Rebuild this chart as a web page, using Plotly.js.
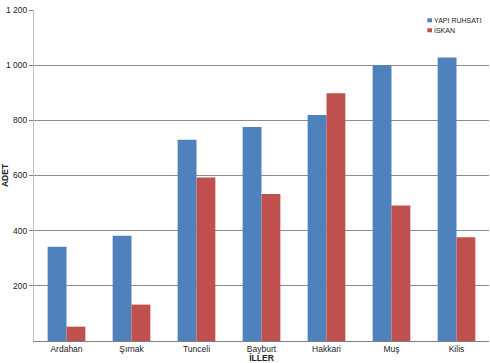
<!DOCTYPE html>
<html><head><meta charset="utf-8">
<script src="https://cdn.plot.ly/plotly-3.0.1.min.js"></script>
<style>html,body{margin:0;padding:0;background:#fff;}#c{width:490px;height:363px;}</style>
</head><body><div id="c"></div>
<script>
const categories = ["Ardahan","Şırnak","Tunceli","Bayburt","Hakkari","Muş","Kilis"];
const yapiRuhsati = [342, 382, 730, 776, 819, 1000, 1028];
const iskan = [52, 132, 593, 533, 898, 491, 376];
const seriesNames = ["YAPI RUHSATI","İSKAN"];
const seriesColors = ["#4f81bd","#c0504d"];
const yTicks = [200, 400, 600, 800, 1000, 1200];

const fam = "Liberation Sans, Arial, sans-serif";
const font = {family: fam, size: 8.5, color: "#222"};
const data = [
  {type:"bar", x:categories, y:yapiRuhsati, name:seriesNames[0], marker:{color:seriesColors[0]}, showlegend:false},
  {type:"bar", x:categories, y:iskan, name:seriesNames[1], marker:{color:seriesColors[1]}, showlegend:false}
];
// compact legend drawn in paper coordinates
const legX0 = 0.8644, legX1 = 0.8747, legTx = 0.8775, legY0 = 0.9689, legDy = 0.0302, sqH = 0.006;
const shapes = [], annotations = [];
seriesNames.forEach((n, i) => {
  const yc = legY0 - i*legDy;
  shapes.push({type:"rect", xref:"paper", yref:"paper", x0:legX0, x1:legX1, y0:yc-sqH, y1:yc+sqH, fillcolor:seriesColors[i], line:{width:0}});
  annotations.push({xref:"paper", yref:"paper", x:legTx, y:yc, xanchor:"left", yanchor:"middle", text:n, showarrow:false, borderpad:0, font:{family:fam, size:7, color:"#222"}});
});
const layout = {
  width:490, height:363,
  margin:{l:34, r:1, t:10, b:22},
  paper_bgcolor:"#fff", plot_bgcolor:"#fff",
  font:font,
  separators:", ",
  barmode:"group", bargap:0.42, bargroupgap:0,
  showlegend:false,
  shapes:shapes, annotations:annotations,
  xaxis:{
    range:[-0.5, 6.5],
    showline:true, linecolor:"#7f7f7f", linewidth:1, ticks:"", showgrid:false,
    title:{text:"<b>İLLER</b>", font:{size:8.5, family:fam}, standoff:0},
    tickfont:{size:8.5}, automargin:false
  },
  yaxis:{
    range:[0,1200], tickvals:yTicks, tickformat:",d",
    showline:true, linecolor:"#bfbfbf", linewidth:1,
    ticks:"outside", ticklen:4, tickcolor:"#7f7f7f",
    showgrid:true, gridcolor:"#8c8c8c", gridwidth:1,
    zeroline:false,
    title:{text:"<b>ADET</b>", font:{size:8.5, family:fam}, standoff:6},
    tickfont:{size:8.5}, automargin:false
  }
};
Plotly.newPlot("c", data, layout, {displayModeBar:false, staticPlot:true});
</script></body></html>
